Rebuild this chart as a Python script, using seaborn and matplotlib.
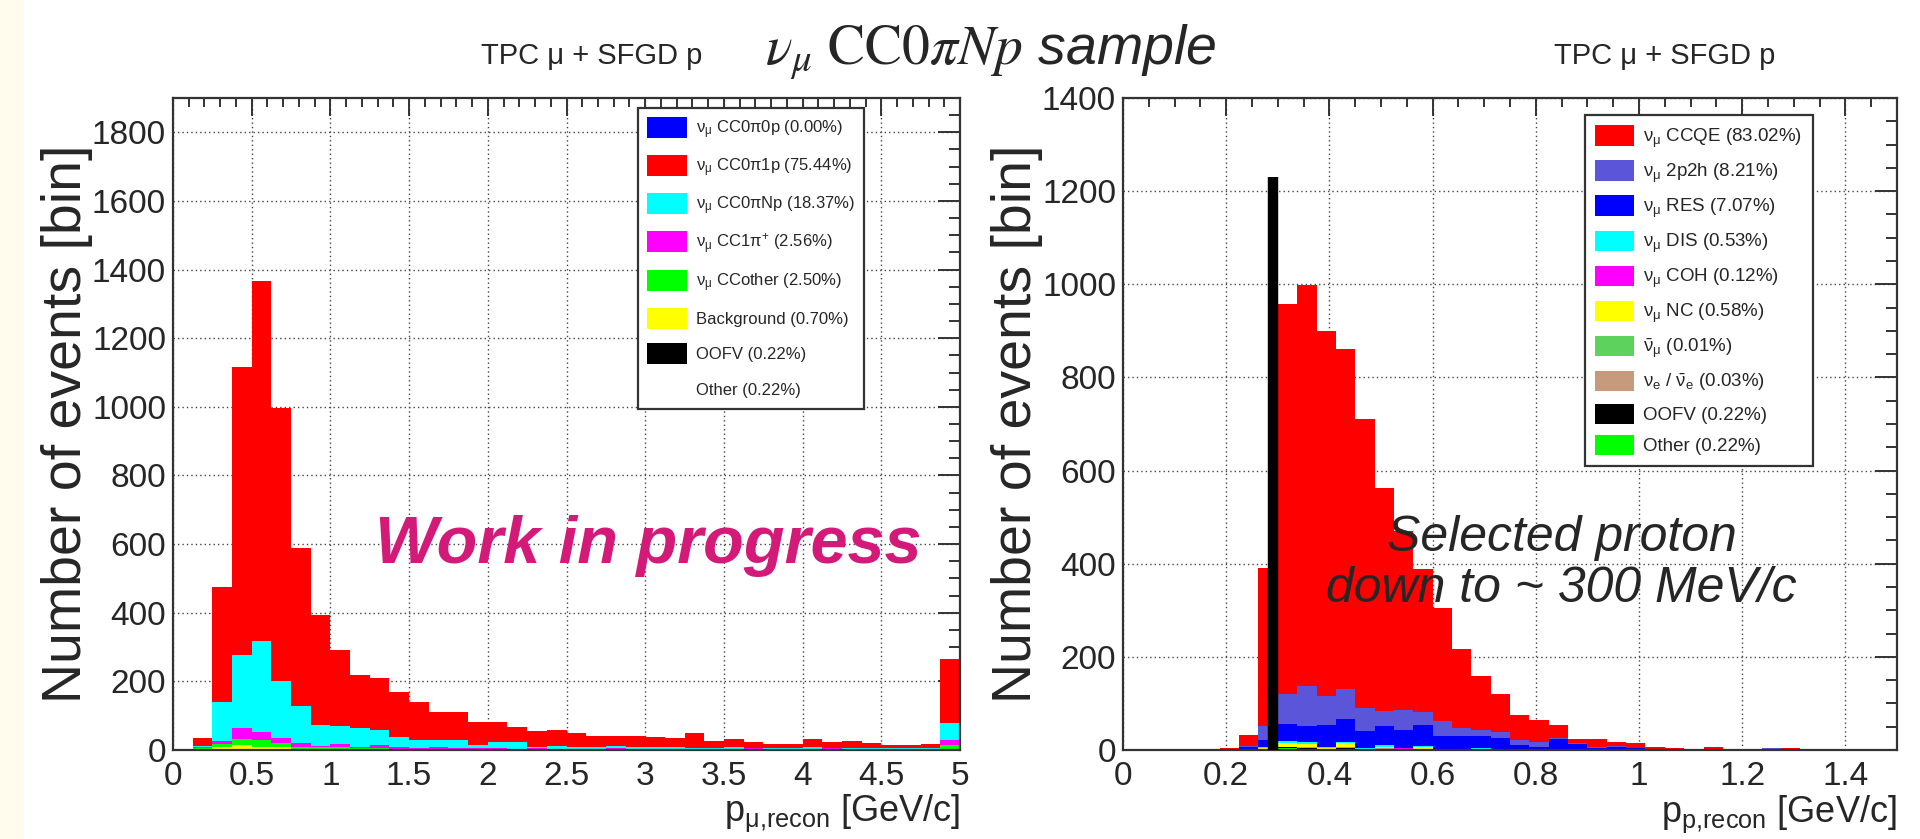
import numpy as np
import pandas as pd
import matplotlib.pyplot as plt
import seaborn as sns
from matplotlib import font_manager
from matplotlib.patches import Patch, Rectangle
from matplotlib.ticker import MultipleLocator, FuncFormatter

sns.set_style('white')

installed = {f.name for f in font_manager.fontManager.ttflist}
narrow = 'Liberation Sans Narrow' if 'Liberation Sans Narrow' in installed else 'Liberation Sans'
plt.rcParams['font.family'] = [narrow, 'DejaVu Sans']
plt.rcParams['mathtext.fontset'] = 'custom'
plt.rcParams['mathtext.rm'] = narrow
plt.rcParams['mathtext.it'] = narrow
plt.rcParams['mathtext.bf'] = narrow + ':bold'

# ---- muon momentum, 40 bins of 0.125 GeV/c (last bin holds the overflow)
mu_edges = np.linspace(0, 5, 41)
mu_cc0pi0p = [0] * 40
mu_cc0pi1p = [0, 22, 334, 838, 1047, 798, 459, 319, 221, 156, 151, 131, 112, 83, 83, 68, 59, 42, 46, 45,
              39, 32, 30, 30, 29, 27, 43, 18, 25, 17, 13, 13, 25, 16, 19, 15, 11, 10, 12, 184]
mu_cc0piNp = [0, 2, 115, 213, 267, 165, 109, 61, 51, 54, 45, 29, 23, 21, 24, 10, 18, 20, 5, 8,
              6, 7, 7, 7, 5, 4, 3, 4, 4, 1, 2, 3, 5, 2, 3, 2, 3, 3, 3, 50]
mu_cc1pi = [0, 4, 8, 31, 22, 15, 10, 5, 8, 4, 8, 4, 3, 4, 2, 2, 2, 2, 2, 2,
            2, 1, 2, 1, 2, 2, 1, 2, 2, 3, 2, 1, 1, 3, 1, 2, 1, 2, 1, 14]
mu_ccother = [0, 3, 8, 18, 22, 12, 6, 6, 8, 5, 5, 3, 3, 3, 3, 3, 4, 2, 3, 2,
              2, 2, 3, 2, 1, 2, 2, 1, 2, 2, 1, 1, 2, 2, 2, 1, 1, 1, 2, 12]
mu_bkg = [0, 2, 8, 13, 7, 7, 1, 2, 2, 1, 1, 1, 0, 1, 0, 0, 0, 0, 0, 0,
          0, 0, 0, 0, 0, 0, 0, 0, 0, 0, 0, 0, 0, 0, 0, 0, 0, 0, 0, 3]
mu_oofv = [0, 1, 2, 2, 1, 1, 3, 0, 0, 0, 0, 0, 0, 0, 0, 0, 0, 0, 0, 0,
           0, 0, 0, 0, 0, 0, 0, 0, 0, 0, 0, 0, 0, 0, 0, 0, 0, 0, 0, 1]
mu_rest = [0] * 40

mu_labels = [r'$\nu_{\mu}$ CC0$\pi$0p (0.00%)', r'$\nu_{\mu}$ CC0$\pi$1p (75.44%)',
             r'$\nu_{\mu}$ CC0$\pi$Np (18.37%)', r'$\nu_{\mu}$ CC1$\pi^{+}$ (2.56%)',
             r'$\nu_{\mu}$ CCother (2.50%)', 'Background (0.70%)', 'OOFV (0.22%)', 'Other (0.22%)']
mu_colors = ['#0000ff', '#ff0000', '#00ffff', '#ff00ff', '#00ff00', '#ffff00', '#000000', '#ffffff']
mu_counts = [mu_cc0pi0p, mu_cc0pi1p, mu_cc0piNp, mu_cc1pi, mu_ccother, mu_bkg, mu_oofv, mu_rest]

# ---- proton momentum, 40 bins of 0.0375 GeV/c
p_edges = np.linspace(0, 1.5, 41)
p_ccqe = [0, 0, 0, 0, 0, 3, 24, 340, 837, 862, 784, 731, 619, 479, 384, 307, 242, 170, 116, 81,
          53, 47, 29, 10, 18, 9, 9, 4, 2, 1, 3, 1, 0, 1, 2, 0, 0, 0, 0, 0]
p_2p2h = [0, 0, 0, 0, 0, 0, 2, 30, 65, 86, 62, 64, 50, 32, 43, 28, 32, 18, 13, 14,
          11, 11, 1, 2, 2, 2, 1, 1, 0, 0, 0, 0, 0, 1, 0, 0, 0, 0, 0, 0]
p_res = [0, 0, 0, 0, 0, 1, 4, 15, 36, 34, 47, 50, 37, 41, 38, 45, 27, 26, 25, 23,
         8, 5, 23, 11, 3, 6, 4, 1, 2, 2, 2, 2, 3, 3, 1, 0, 0, 1, 1, 0]
p_dis = [0, 0, 0, 0, 0, 0, 0, 1, 4, 5, 2, 3, 1, 3, 1, 3, 1, 1, 1, 1,
         1, 1, 0, 0, 1, 0, 0, 0, 0, 0, 0, 0, 0, 0, 0, 0, 0, 0, 0, 0]
p_coh = [0, 0, 0, 0, 0, 0, 0, 0, 0, 0, 0, 0, 0, 0, 1, 0, 0, 1, 0, 0,
         0, 0, 0, 0, 0, 0, 0, 1, 1, 0, 0, 0, 0, 0, 1, 2, 2, 0, 0, 0]
p_nc = [0, 0, 0, 0, 0, 0, 1, 3, 8, 6, 2, 8, 1, 3, 2, 3, 1, 1, 2, 1,
        1, 1, 1, 1, 0, 0, 0, 0, 0, 0, 0, 0, 0, 0, 0, 0, 0, 0, 0, 0]
p_numubar = [0, 0, 0, 0, 0, 0, 0, 0, 1, 0, 0, 1, 0, 0, 0, 0, 0, 0, 0, 0,
             0, 0, 0, 0, 0, 0, 0, 0, 0, 0, 0, 0, 0, 0, 0, 0, 0, 0, 0, 0]
p_nue = [0, 0, 0, 0, 0, 0, 0, 0, 0, 1, 0, 0, 0, 1, 0, 0, 1, 0, 0, 0,
         0, 0, 0, 0, 0, 0, 0, 0, 0, 0, 0, 0, 0, 0, 0, 0, 0, 0, 0, 0]
p_oofv = [0, 0, 0, 0, 0, 0, 0, 0, 2, 2, 1, 2, 1, 1, 0, 1, 0, 0, 0, 0,
          0, 0, 0, 0, 0, 1, 0, 0, 0, 0, 0, 0, 0, 0, 0, 0, 0, 0, 0, 0]
p_other = [0, 0, 0, 0, 0, 0, 1, 2, 4, 3, 2, 3, 1, 2, 1, 2, 0, 0, 1, 0,
           1, 0, 0, 0, 0, 0, 0, 0, 0, 0, 1, 0, 0, 0, 0, 0, 0, 0, 0, 0]

p_labels = [r'$\nu_{\mu}$ CCQE (83.02%)', r'$\nu_{\mu}$ 2p2h (8.21%)', r'$\nu_{\mu}$ RES (7.07%)',
            r'$\nu_{\mu}$ DIS (0.53%)', r'$\nu_{\mu}$ COH (0.12%)', r'$\nu_{\mu}$ NC (0.58%)',
            r'$\bar{\nu}_{\mu}$ (0.01%)', r'$\nu_{e}$ / $\bar{\nu}_{e}$ (0.03%)',
            'OOFV (0.22%)', 'Other (0.22%)']
p_colors = ['#ff0000', '#5a55d9', '#0000ff', '#00ffff', '#ff00ff', '#ffff00', '#5dd35d', '#c79a7c',
            '#000000', '#00ff00']
p_counts = [p_ccqe, p_2p2h, p_res, p_dis, p_coh, p_nc, p_numubar, p_nue, p_oofv, p_other]

cut_momentum = 0.29
cut_height = 1230


def draw_stack(ax, edges, counts, labels, colors):
    centers = (edges[:-1] + edges[1:]) / 2
    frame = pd.DataFrame({
        'p': np.tile(centers, len(labels)),
        'n': np.concatenate([np.asarray(c, dtype=float) for c in counts]),
        'mode': np.repeat(labels, len(centers)),
    })
    # first hue level ends on top of the stack, like the ROOT THStack
    sns.histplot(data=frame, x='p', weights='n', hue='mode', hue_order=labels,
                 palette=dict(zip(labels, colors)), multiple='stack', bins=list(edges),
                 element='step', fill=True, linewidth=0, alpha=1, legend=False, ax=ax)
    ax.set_xlabel('')
    ax.set_ylabel('')


def style_axes(ax, xmax, xmajor, xminor, ymax):
    ax.set_xlim(0, xmax)
    ax.set_ylim(0, ymax)
    ax.xaxis.set_major_locator(MultipleLocator(xmajor))
    ax.xaxis.set_minor_locator(MultipleLocator(xminor))
    ax.yaxis.set_major_locator(MultipleLocator(200))
    ax.yaxis.set_minor_locator(MultipleLocator(50))
    ax.xaxis.set_major_formatter(FuncFormatter(lambda v, pos: '{:g}'.format(round(v, 3))))
    ax.set_axisbelow(True)
    ax.grid(True, which='major', color='#444444', linestyle=(0, (1, 2.2)), linewidth=1.0)
    ax.tick_params(axis='both', which='both', direction='in', top=True, right=True,
                   width=1.4, color='#333333', labelsize=24)
    ax.tick_params(axis='y', which='major', length=16, pad=5)
    ax.tick_params(axis='y', which='minor', length=8)
    ax.tick_params(axis='x', which='major', length=13, pad=8)
    ax.tick_params(axis='x', which='minor', length=6.5)
    for s in ax.spines.values():
        s.set_linewidth(1.6)
        s.set_color('#333333')


def add_legend(ax, labels, colors, anchor, size, hl, hh, spacing, tpad):
    handles = [Patch(facecolor=c, edgecolor='none') for c in colors]
    leg = ax.legend(handles, labels, loc='upper left', bbox_to_anchor=anchor,
                    bbox_transform=ax.figure.transFigure, fontsize=size, frameon=True,
                    fancybox=False, framealpha=1, edgecolor='#333333', handlelength=hl,
                    handleheight=hh, labelspacing=spacing, handletextpad=tpad,
                    borderpad=0.55, borderaxespad=0)
    leg.get_frame().set_linewidth(1.6)
    leg.set_zorder(8)


W, H = 1920, 839
fig = plt.figure(figsize=(W / 100, H / 100), dpi=100)
fig.patches.append(Rectangle((0, 0), 24 / W, 1, transform=fig.transFigure,
                             facecolor='#fffcee', edgecolor='none', zorder=-1))

ax1 = fig.add_axes([173 / W, 89 / H, 787 / W, 652 / H])
ax2 = fig.add_axes([1123 / W, 89 / H, 774 / W, 652 / H])

draw_stack(ax1, mu_edges, mu_counts, mu_labels, mu_colors)
style_axes(ax1, 5, 0.5, 0.1, 1900)
add_legend(ax1, mu_labels, mu_colors, (638 / W, 1 - 108 / H), 12, 2.4, 1.56, 0.86, 0.54)
ax1.text(3.02, 545, 'Work in progress', fontsize=48, fontweight='bold', fontstyle='italic',
         color='#d41a78', ha='center', va='baseline', zorder=6)

draw_stack(ax2, p_edges, p_counts, p_labels, p_colors)
style_axes(ax2, 1.5, 0.2, 0.05, 1400)
ax2.vlines(cut_momentum, 0, cut_height, color='black', linewidth=7.5, zorder=5)
add_legend(ax2, p_labels, p_colors, (1585 / W, 1 - 115 / H), 13.5, 2.08, 1.28, 0.57, 0.48)
ax2.text(0.85, 400, 'Selected proton\ndown to ~ 300 MeV/c', fontsize=36, fontstyle='italic',
         family=['Liberation Sans', 'DejaVu Sans'], ha='center', va='center',
         linespacing=1.15, zorder=7)

# axis titles
for xr in (67, 1017):
    fig.text(xr / W, 1 - 424 / H, 'Number of events [bin]', rotation=90, ha='center',
             va='center', fontsize=40, family=['Liberation Sans', 'DejaVu Sans'])
fig.text(960 / W, 1 - 822 / H, r'p$_{\mu{,}\mathrm{recon}}$ [GeV/c]', ha='right', va='baseline',
         fontsize=26)
fig.text(1897 / W, 1 - 822 / H, r'p$_{\mathrm{p{,}recon}}$ [GeV/c]', ha='right', va='baseline',
         fontsize=26)

# panel titles
fig.text(592 / W, 1 - 64 / H, 'TPC \u03bc + SFGD p', ha='center', va='baseline', fontsize=21)
fig.text(1665 / W, 1 - 64 / H, 'TPC \u03bc + SFGD p', ha='center', va='baseline', fontsize=21)
fig.text(991 / W, 1 - 64 / H, r'$\nu_{\mu}\ \mathrm{CC0}\pi Np$ sample', ha='center',
         va='baseline', fontsize=40, fontstyle='italic', math_fontfamily='stix',
         family=['Liberation Sans', 'DejaVu Sans'])

fig.savefig('out.png', dpi=100)
